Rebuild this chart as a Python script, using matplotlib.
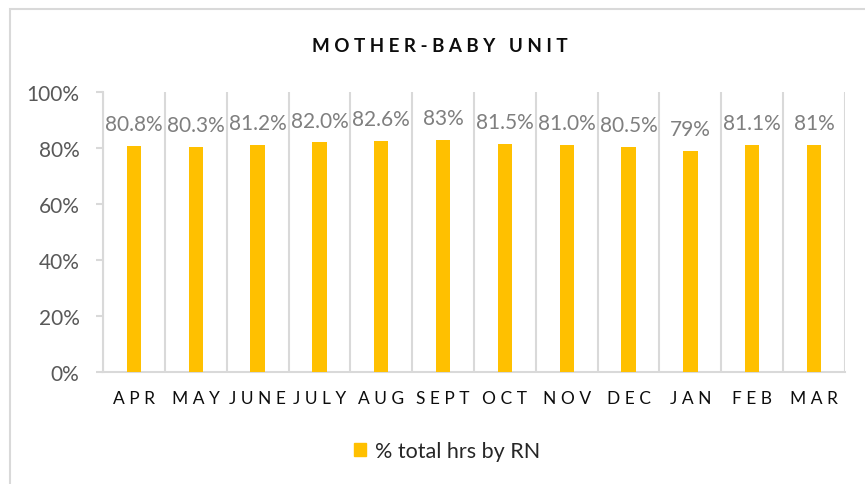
import matplotlib
matplotlib.use("Agg")
import matplotlib.pyplot as plt
from matplotlib.patches import Rectangle, Patch
import numpy as np

months = ["APR", "MAY", "JUNE", "JULY", "AUG", "SEPT", "OCT", "NOV", "DEC", "JAN", "FEB", "MAR"]
values = [80.8, 80.3, 81.2, 82.0, 82.6, 82.9, 81.5, 81.0, 80.5, 79.0, 81.1, 81.0]
value_labels = ["80.8%", "80.3%", "81.2%", "82.0%", "82.6%", "83%", "81.5%", "81.0%", "80.5%", "79%", "81.1%", "81%"]
yticks = [0, 20, 40, 60, 80, 100]
title = "MOTHER-BABY UNIT"
series_name = "% total hrs by RN"

plt.rcParams['font.family'] = ['Lato', 'DejaVu Sans']

def spaced(s, sep=" "):
    words = s.split(" ")
    return "   ".join(sep.join(list(w)) for w in words)

fig = plt.figure(figsize=(8.65, 4.85), dpi=100)
fig.patch.set_facecolor("white")
ax = fig.add_axes([103/865, 1-373/485, (845-103)/865, (373-93)/485])

bar_color = "#FFC000"
grid_color = "#D9D9D9"
x = np.arange(len(months))
ax.bar(x, values, width=0.23, color=bar_color, zorder=3)

for xi, v, lab in zip(x, values, value_labels):
    ax.annotate(lab, (xi, v), xytext=(0, 8.5), textcoords="offset points",
                ha="center", va="bottom", fontsize=15, color="#7F7F7F")

ax.set_xlim(-0.5, len(months) - 0.5)
ax.set_ylim(0, 100)
ax.set_yticks(yticks)
ax.set_yticklabels([f"{t}%" for t in yticks], fontsize=15, color="#595959")
ax.set_xticks(x)
ax.set_xticklabels([" ".join(list(m)) for m in months], fontsize=12.5, color="#0D0D0D")
ax.tick_params(axis="x", length=0, pad=13)
ax.tick_params(axis="y", length=5, width=1.5, color=grid_color, pad=12)

for b in np.arange(-0.5, len(months) + 0.5, 1):
    ax.axvline(b, color=grid_color, lw=1.5, zorder=1)

for s in ["top", "right"]:
    ax.spines[s].set_visible(False)
ax.spines["left"].set_color(grid_color)
ax.spines["left"].set_linewidth(1.5)
ax.spines["bottom"].set_color(grid_color)
ax.spines["bottom"].set_linewidth(1.5)

fig.text(440/865, 1-46/485, spaced(title), ha="center", va="center",
         fontsize=13.5, fontweight="bold", color="#0D0D0D")

handle = Patch(facecolor=bar_color, edgecolor=bar_color)
fig.legend([handle], [series_name], loc="center", bbox_to_anchor=(447/865, 1-452/485),
           frameon=False, fontsize=15.5, handlelength=0.55, handleheight=0.55,
           handletextpad=0.4, labelcolor="#262626")

frame = Rectangle((10/865, -0.1), 1.2, 1.1 - 10/485, transform=fig.transFigure,
                  fill=False, edgecolor=grid_color, lw=1.5)
fig.patches.append(frame)

fig.savefig("out.png", dpi=100, facecolor="white")
